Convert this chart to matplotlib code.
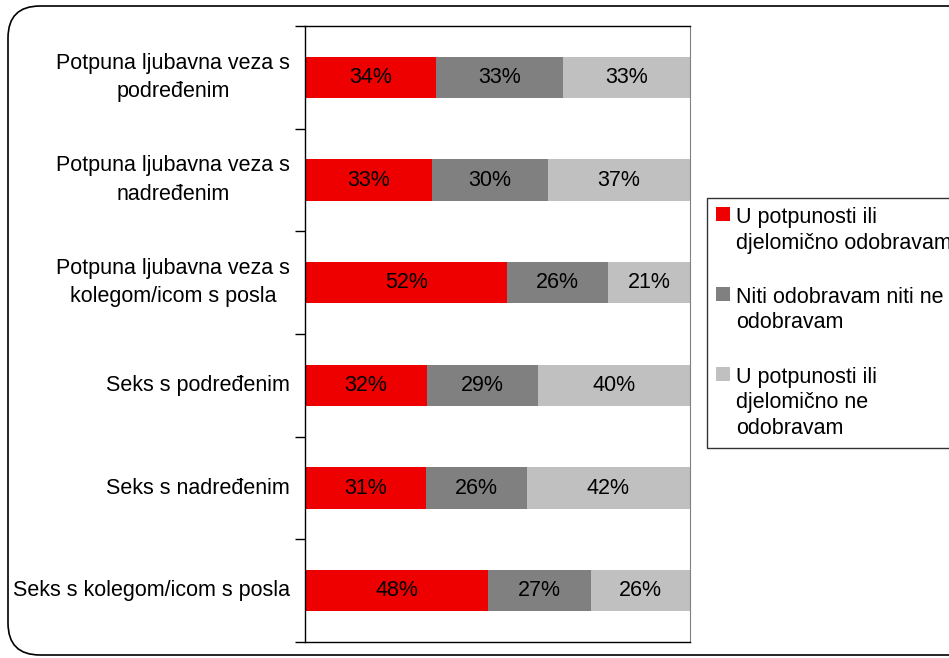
import numpy as np
import matplotlib
matplotlib.use("Agg")
import matplotlib.pyplot as plt
from matplotlib.patches import FancyBboxPatch

plt.rcParams['font.family'] = ['Liberation Sans', 'DejaVu Sans']

categories = [
    "Potpuna ljubavna veza s\npodređenim",
    "Potpuna ljubavna veza s\nnadređenim",
    "Potpuna ljubavna veza s\nkolegom/icom s posla",
    "Seks s podređenim",
    "Seks s nadređenim",
    "Seks s kolegom/icom s posla",
]
approve = [34, 33, 52, 32, 31, 48]
neutral = [33, 30, 26, 29, 26, 27]
disapprove = [33, 37, 21, 40, 42, 26]

series_names = [
    "U potpunosti ili\ndjelomično odobravam",
    "Niti odobravam niti ne\nodobravam",
    "U potpunosti ili\ndjelomično ne\nodobravam",
]
colors = ["#EE0000", "#808080", "#C0C0C0"]

FS = 15.5

fig = plt.figure(figsize=(9.49, 6.58), dpi=100)
ax = fig.add_axes([305 / 949, 1 - 642 / 658, 385 / 949, 616 / 658])

# rounded frame around the whole chart (cut off on the right like the original)
frame = FancyBboxPatch((0.08, 0.03), 9.8, 6.49,
                       boxstyle="round,pad=0,rounding_size=0.32",
                       transform=fig.dpi_scale_trans, fill=False,
                       edgecolor="black", linewidth=1.2, clip_on=False)
fig.patches.append(frame)

data = np.array([approve, neutral, disapprove], dtype=float)
shares = data / data.sum(axis=0)  # 100% stacked
y = np.arange(len(categories))
left = np.zeros(len(categories))
for vals, share, name, col in zip(data, shares, series_names, colors):
    ax.barh(y, share, left=left, height=0.4, color=col, label=name)
    for yi, l, s, v in zip(y, left, share, vals):
        ax.text(l + s / 2, yi, f"{int(v)}%", ha="center", va="center",
                fontsize=FS, color="black")
    left += share

ax.set_xlim(0, 1)
ax.set_ylim(len(categories) - 0.5, -0.5)
ax.set_xticks([])
ax.set_yticks(y)
ax.set_yticklabels(categories, fontsize=FS, multialignment="center",
                   linespacing=1.45)
for lbl in ax.get_yticklabels():
    lbl.set_verticalalignment("center")
ax.tick_params(axis="y", which="major", length=0, pad=11)
ax.set_yticks(np.arange(-0.5, len(categories)), minor=True)
ax.tick_params(axis="y", which="minor", length=7, width=1, direction="out")

for side in ["left", "top", "bottom"]:
    ax.spines[side].set_color("black")
    ax.spines[side].set_linewidth(1)
ax.spines["right"].set_color("#808080")

leg = fig.legend(loc="upper left", bbox_to_anchor=(707 / 949, 1 - 198 / 658),
                 fontsize=FS, frameon=True, fancybox=False, edgecolor="black",
                 handlelength=0.65, handleheight=0.65, handletextpad=0.3,
                 labelspacing=1.55, borderpad=0.42, borderaxespad=0)
leg.get_frame().set_linewidth(1)
for t in leg.get_texts():
    t.set_linespacing(1.28)
# square markers sit next to the first line of each entry
for col in leg._legend_handle_box.get_children():
    for row in col.get_children():
        row.align = "top"

fig.savefig("out.png", dpi=100)
